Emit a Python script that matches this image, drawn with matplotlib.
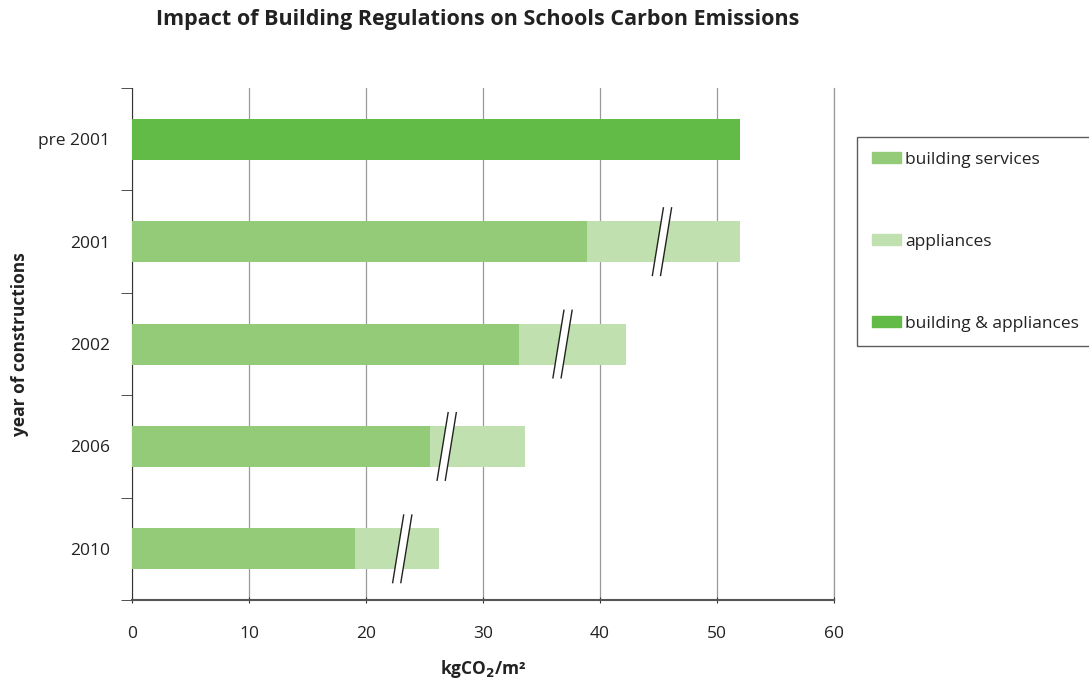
import matplotlib
matplotlib.use('Agg')
import matplotlib.pyplot as plt
from matplotlib.patches import Patch, Polygon
import numpy as np

plt.rcParams['font.family'] = ['Open Sans', 'DejaVu Sans']

# data
years = ['pre 2001', '2001', '2002', '2006', '2010']
building_services = [0, 38.9, 33.1, 25.5, 19.1]
appliances = [0, 13.1, 9.1, 8.1, 7.1]
building_and_appliances = [52.0, 0, 0, 0, 0]
break_at = [None, 45.3, 36.8, 26.9, 23.1]

c_serv = '#93cb79'
c_appl = '#c1e0af'
c_both = '#62bb47'

fig = plt.figure(figsize=(10.89, 6.81), dpi=100)
ax = fig.add_axes([0.1212, 0.1189, 0.6446, 0.7518])

y = np.arange(len(years))
h = 0.4
ax.barh(y, building_and_appliances, height=h, color=c_both, zorder=3)
ax.barh(y, building_services, height=h, color=c_serv, zorder=3)
ax.barh(y, appliances, left=building_services, height=h, color=c_appl, zorder=3)

# break marks (double slash)
dx_gap = 0.7
slant = 0.47
half = 0.33
for yi, xb in zip(y, break_at):
    if xb is None:
        continue
    x0 = xb - dx_gap / 2
    x1 = xb + dx_gap / 2
    pts = [(x0 - slant, yi + half), (x1 - slant, yi + half),
           (x1 + slant, yi - half), (x0 + slant, yi - half)]
    ax.add_patch(Polygon(pts, closed=True, facecolor='white', edgecolor='none', zorder=4))
    ax.plot([x0 - slant, x0 + slant], [yi + half, yi - half], color='#222222', lw=1.0, zorder=5)
    ax.plot([x1 - slant, x1 + slant], [yi + half, yi - half], color='#222222', lw=1.0, zorder=5)

ax.set_xlim(0, 60)
ax.set_ylim(len(years) - 0.5, -0.5)
ax.set_xticks(np.arange(0, 61, 10))
ax.set_yticks(y)
ax.set_yticklabels(years)
ax.set_yticks(np.arange(-0.5, len(years), 1), minor=True)
ax.tick_params(axis='y', which='major', length=0, pad=16, labelsize=12.5, labelcolor='#222222')
ax.tick_params(axis='y', which='minor', length=8, direction='out', color='#333333')
ax.tick_params(axis='x', length=5, direction='inout', pad=16, labelsize=12.5, labelcolor='#222222', color='#333333')

ax.grid(axis='x', color='#999999', lw=0.9, zorder=0)
for s in ['top', 'right']:
    ax.spines[s].set_visible(False)
ax.spines['left'].set_color('#333333')
ax.spines['bottom'].set_color('#555555')
ax.spines['bottom'].set_linewidth(1.5)
ax.axvline(60, color='#999999', lw=0.9, zorder=0, clip_on=False)

ax.set_xlabel('kgCO$_\\mathbf{2}$/m\u00b2', fontsize=12.5, fontweight='bold', color='#222222')
ax.xaxis.set_label_coords(0.5, -0.113)
ax.set_ylabel('year of constructions', fontsize=12.5, fontweight='bold', color='#222222')
ax.yaxis.set_label_coords(-0.146, 0.5)

fig.text(0.439, 0.972, 'Impact of Building Regulations on Schools Carbon Emissions',
         ha='center', va='center', fontsize=15.5, fontweight='bold', color='#222222')

handles = [Patch(color=c_serv), Patch(color=c_appl), Patch(color=c_both)]
labels = ['building services', 'appliances', 'building & appliances']
leg = fig.legend(handles, labels, loc='upper left', bbox_to_anchor=(0.787, 0.799),
                 frameon=True, fancybox=False, fontsize=12.5, labelspacing=3.8,
                 handlelength=1.7, handleheight=0.6, handletextpad=0.2,
                 borderpad=0.85, borderaxespad=0)
leg.get_frame().set_edgecolor('#333333')
leg.get_frame().set_linewidth(1.0)
for t in leg.get_texts():
    t.set_color('#222222')

fig.savefig('out.png', dpi=100)
